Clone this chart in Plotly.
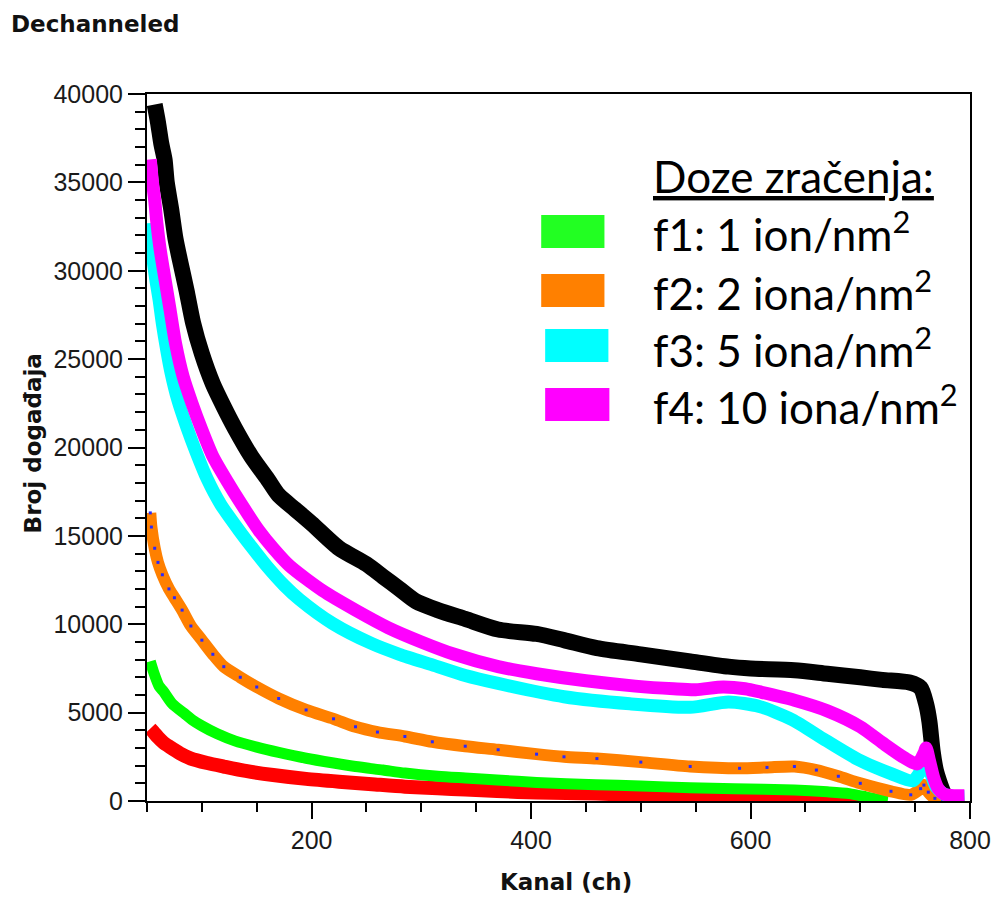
import plotly.graph_objects as go

# ---------------- data ----------------
ch_black = [57, 60, 63, 66, 68, 72, 76, 80, 86, 92, 100, 110, 120, 130, 145, 160, 170, 185,
            200, 225, 250, 265, 280, 295, 315, 340, 370, 405, 430, 460, 500, 545, 580, 600,
            640, 670, 700, 720, 745, 755, 760, 763, 766, 769, 772, 776, 780, 785, 790]
val_black = [39400, 38400, 37200, 36300, 35000, 33500, 31800, 30600, 28900, 27050, 25300,
             23600, 22300, 21100, 19500, 18200, 17300, 16500, 15700, 14300, 13400, 12700,
             12000, 11300, 10800, 10300, 9700, 9450, 9100, 8650, 8300, 7900, 7600, 7500,
             7400, 7200, 7000, 6850, 6700, 6400, 5500, 4500, 2800, 1700, 1100, 450, 100, 0, 0]

ch_f4 = [53, 55, 57, 59, 62, 67, 71, 76, 83, 91, 100, 110, 122, 137, 152, 165, 180, 210, 240,
         270, 300, 330, 370, 405, 450, 495, 530, 550, 575, 595, 610, 640, 670, 700, 720, 740,
         752, 758, 760, 763, 767, 771, 776, 785, 795]
val_f4 = [36300, 35000, 34000, 32700, 31200, 29300, 27800, 25900, 24000, 22500, 21000, 19500,
          18200, 16700, 15300, 14300, 13300, 11900, 10800, 9800, 9000, 8300, 7600, 7200, 6800,
          6500, 6350, 6300, 6450, 6350, 6150, 5700, 5100, 4200, 3300, 2450, 2100, 2700, 3000,
          2300, 1300, 700, 400, 300, 300]

ch_f3 = [53, 55, 58, 61, 64, 68, 72, 78, 86, 95, 105, 117, 134, 145, 159, 175, 189, 219, 255,
         280, 310, 340, 370, 430, 490, 545, 580, 608, 638, 668, 698, 728, 748, 755, 760, 764,
         769, 776, 785, 795]
val_f3 = [32700, 30900, 29500, 28350, 27000, 25500, 24200, 22700, 21200, 19700, 18200, 16800,
          15300, 14400, 13300, 12200, 11400, 10050, 8900, 8300, 7700, 7100, 6650, 5900, 5500,
          5300, 5600, 5350, 4600, 3450, 2350, 1550, 1150, 1700, 2300, 1600, 800, 400, 250, 250]

ch_f2 = [53, 54, 57, 60, 64, 70, 75, 82, 90, 100, 110, 120, 135, 150, 170, 195, 220, 240, 260,
         285, 310, 340, 370, 405, 430, 460, 500, 545, 590, 615, 640, 660, 680, 700, 728, 746,
         755, 758, 762, 768, 775, 790]
val_f2 = [16300, 15500, 14300, 13500, 12800, 12000, 11500, 10800, 9900, 9100, 8300, 7600, 7000,
          6450, 5800, 5150, 4650, 4200, 3900, 3650, 3350, 3100, 2900, 2650, 2500, 2400, 2200,
          1950, 1850, 1900, 1950, 1750, 1400, 1000, 550, 350, 700, 900, 500, 150, 0, 0]

ch_f1 = [53, 56, 61, 65, 73, 85, 91, 100, 114, 130, 150, 170, 195, 220, 240, 265, 285, 315, 340,
         369, 405, 459, 500, 545, 585, 640, 670, 690, 705, 715, 725]
val_f1 = [7900, 7300, 6500, 6200, 5500, 4900, 4600, 4250, 3800, 3400, 3050, 2750, 2420, 2150,
          1950, 1750, 1580, 1400, 1300, 1190, 1050, 920, 850, 750, 700, 620, 520, 420, 240, 100, 0]

ch_f0 = [53, 56, 60, 65, 71, 80, 90, 105, 120, 140, 165, 195, 225, 255, 285, 315, 340, 369, 405,
         459, 500, 545, 585, 630, 660, 690, 710]
val_f0 = [4100, 3900, 3600, 3300, 3050, 2700, 2400, 2150, 1950, 1700, 1470, 1250, 1090, 950, 810,
          720, 650, 560, 480, 420, 340, 280, 240, 210, 190, 120, 0]

x_ticks = [200, 400, 600, 800]
x_tick_text = ["200", "400", "600", "800"]
y_ticks = [0, 5000, 10000, 15000, 20000, 25000, 30000, 35000, 40000]
y_tick_text = ["0", "5000", "10000", "15000", "20000", "25000", "30000", "35000", "40000"]

legend_title = "Doze zračenja:"
legend_labels = ["f1: 1 ion/nm<sup>2</sup>", "f2: 2 iona/nm<sup>2</sup>",
                 "f3: 5 iona/nm<sup>2</sup>", "f4: 10 iona/nm<sup>2</sup>"]
legend_colors = ["#22FF22", "#FF8000", "#00FFFF", "#FF00FF"]

# ---------------- figure ----------------
W, H = 1003, 898
L, R, T, B = 147, 980, 94, 801


def px(x):
    return (x - L) / (R - L)


def py(y):
    return (B - y) / (B - T)


fig = go.Figure()


def band(xs, ys, color, width, name):
    fig.add_trace(go.Scatter(x=xs, y=ys, mode="lines", name=name,
                             line=dict(color=color, width=width, shape="spline", smoothing=0.7)))


band(ch_black, val_black, "#000000", 16, "random")
band(ch_f0, val_f0, "#FF0000", 14, "f0")
band(ch_f1, val_f1, "#00FF00", 11, "f1")
band(ch_f2, val_f2, "#FF8000", 12, "f2")
fig.add_trace(go.Scatter(x=ch_f2, y=val_f2, mode="markers", name="f2b",
                         marker=dict(color="#2a2aff", size=3, symbol="square")))
band(ch_f3, val_f3, "#00FFFF", 13, "f3")
band(ch_f4, val_f4, "#FF00FF", 13, "f4")

tick_font = dict(family="Liberation Sans, Arial, sans-serif", size=25, color="#1a1a1a")

fig.update_xaxes(range=[50, 800], tickvals=x_ticks, ticktext=x_tick_text, ticks="outside",
                 ticklen=16, tickwidth=2, tickcolor="#000", showline=True, linecolor="#000",
                 linewidth=2, mirror=True, showgrid=False, zeroline=False, tickfont=tick_font,
                 minor=dict(dtick=50, tick0=0, ticks="outside", ticklen=9, tickwidth=2,
                            tickcolor="#000", showgrid=False))
fig.update_yaxes(range=[0, 40000], tickvals=y_ticks, ticktext=y_tick_text, ticks="outside",
                 ticklen=17, tickwidth=2, tickcolor="#000", showline=True, linecolor="#000",
                 linewidth=2, mirror=True, showgrid=False, zeroline=False, tickfont=tick_font,
                 minor=dict(dtick=1000, tick0=0, ticks="outside", ticklen=10, tickwidth=2,
                            tickcolor="#000", showgrid=False))

bold_font = dict(family="DejaVu Sans, Verdana, sans-serif", size=23, color="#111")
annotations = [
    dict(text="<b>Dechanneled</b>", x=px(7), y=py(24), xref="paper", yref="paper",
         xanchor="left", yanchor="middle", showarrow=False, font=bold_font),
    dict(text="<b>Kanal (ch)</b>", x=px(571), y=py(882), xref="paper", yref="paper",
         xanchor="center", yanchor="middle", showarrow=False, font=bold_font),
    dict(text="<b>Broj događaja</b>", x=px(32), y=py(443), xref="paper", yref="paper",
         xanchor="center", yanchor="middle", showarrow=False, textangle=-90, font=bold_font),
    dict(text="<u>" + legend_title + "</u>", x=px(657), y=py(176), xref="paper", yref="paper",
         xanchor="left", yanchor="middle", showarrow=False,
         font=dict(family="Lato, sans-serif", size=44, color="#000")),
]
label_y = [232, 290, 347, 404]
rect_x = [(546, 610), (546, 610), (550, 614), (550, 615)]
rect_y = [(215, 248), (274, 307), (329, 362), (388, 421)]
shapes = []
for lab, ly, col, rx, ry in zip(legend_labels, label_y, legend_colors, rect_x, rect_y):
    annotations.append(dict(text=lab, x=px(657), y=py(ly), xref="paper", yref="paper",
                            xanchor="left", yanchor="middle", showarrow=False,
                            font=dict(family="Lato, sans-serif", size=44, color="#000")))
    shapes.append(dict(type="rect", xref="paper", yref="paper", x0=px(rx[0]), x1=px(rx[1]),
                       y0=py(ry[1]), y1=py(ry[0]), fillcolor=col, line=dict(width=0)))

fig.update_layout(width=W, height=H, margin=dict(l=L, r=W - R, t=T, b=H - B),
                  paper_bgcolor="white", plot_bgcolor="white", showlegend=False,
                  annotations=annotations, shapes=shapes)

fig.write_html("out.html")
